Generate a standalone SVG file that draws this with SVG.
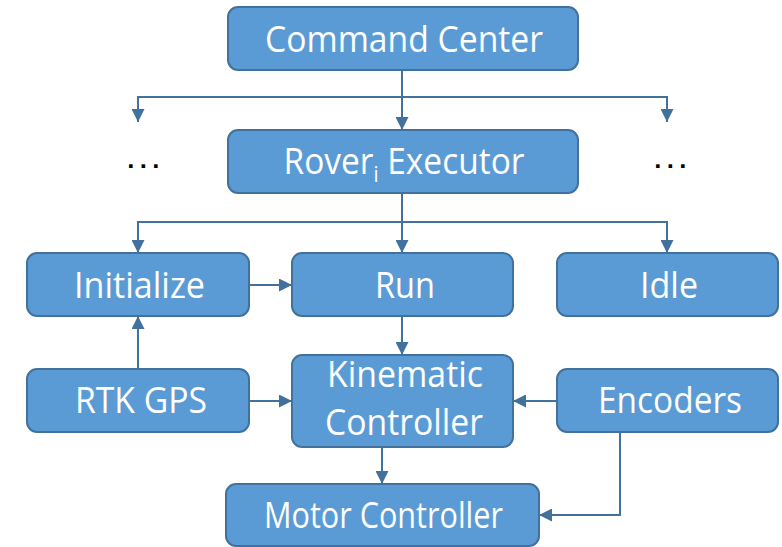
<svg xmlns="http://www.w3.org/2000/svg" width="782" height="547" viewBox="0 0 782 547">
<defs>
<style>
.box{fill:#5B9BD5;stroke:#41719C;stroke-width:2}
.lbl{font-family:"Open Sans","DejaVu Sans",sans-serif;font-size:37px;fill:#fff;text-anchor:middle}
.c{fill:none;stroke:#41719C;stroke-width:2}
.dots{font-family:"DejaVu Sans",sans-serif;font-size:20px;font-weight:bold;fill:#000;letter-spacing:4.9px}
</style>
<marker id="ah" viewBox="0 0 10 10" refX="10" refY="5" markerWidth="13" markerHeight="13" markerUnits="userSpaceOnUse" orient="auto">
<path d="M0,0 L10,5 L0,10 z" fill="#41719C"/>
</marker>
</defs>
<g id="connectors">
<path class="c" d="M402,70 V130" marker-end="url(#ah)"/>
<path class="c" d="M138,122 V97 H667 V122" marker-end="url(#ah)"/>
<path class="c" d="M138,97 V122" marker-end="url(#ah)"/>
<path class="c" d="M402,193 V253" marker-end="url(#ah)"/>
<path class="c" d="M138,253 V222 H667 V253" marker-end="url(#ah)"/>
<path class="c" d="M138,222 V253" marker-end="url(#ah)"/>
<path class="c" d="M249,285 H292" marker-end="url(#ah)"/>
<path class="c" d="M138,369 V316" marker-end="url(#ah)"/>
<path class="c" d="M249,401 H292" marker-end="url(#ah)"/>
<path class="c" d="M557,401 H513" marker-end="url(#ah)"/>
<path class="c" d="M402,316 V355" marker-end="url(#ah)"/>
<path class="c" d="M382,447 V484" marker-end="url(#ah)"/>
<path class="c" d="M620,432 V515 H539" marker-end="url(#ah)"/>
</g>
<g id="command-center"><rect class="box" x="228" y="7" width="350" height="63" rx="10"/><text class="lbl" x="404" y="52" textLength="278" lengthAdjust="spacingAndGlyphs">Command Center</text></g>
<g id="rover-executor"><rect class="box" x="228" y="130" width="350" height="63" rx="10"/><text class="lbl" x="404" y="174" textLength="241" lengthAdjust="spacingAndGlyphs">Rover<tspan font-size="22" dy="8">i</tspan><tspan dy="-8"> Executor</tspan></text></g>
<g id="dots-left"><text class="dots" x="127" y="168">...</text></g>
<g id="dots-right"><text class="dots" x="654" y="168">...</text></g>
<g id="initialize"><rect class="box" x="27" y="253" width="222" height="63" rx="10"/><text class="lbl" x="139.5" y="298" textLength="131" lengthAdjust="spacingAndGlyphs">Initialize</text></g>
<g id="run"><rect class="box" x="292" y="253" width="221" height="63" rx="10"/><text class="lbl" x="405" y="298" textLength="60" lengthAdjust="spacingAndGlyphs">Run</text></g>
<g id="idle"><rect class="box" x="557" y="253" width="221" height="63" rx="10"/><text class="lbl" x="669" y="298" textLength="58" lengthAdjust="spacingAndGlyphs">Idle</text></g>
<g id="rtk-gps"><rect class="box" x="27" y="369" width="222" height="63" rx="10"/><text class="lbl" x="141" y="413" textLength="132" lengthAdjust="spacingAndGlyphs">RTK GPS</text></g>
<g id="kinematic-controller"><rect class="box" x="292" y="355" width="221" height="92" rx="10"/><text class="lbl" x="405" y="387" textLength="156" lengthAdjust="spacingAndGlyphs">Kinematic</text><text class="lbl" x="404" y="435" textLength="158" lengthAdjust="spacingAndGlyphs">Controller</text></g>
<g id="encoders"><rect class="box" x="557" y="369" width="221" height="63" rx="10"/><text class="lbl" x="670" y="413" textLength="144" lengthAdjust="spacingAndGlyphs">Encoders</text></g>
<g id="motor-controller"><rect class="box" x="226" y="484" width="313" height="62" rx="10"/><text class="lbl" x="383.5" y="528" textLength="239" lengthAdjust="spacingAndGlyphs">Motor Controller</text></g>
</svg>
